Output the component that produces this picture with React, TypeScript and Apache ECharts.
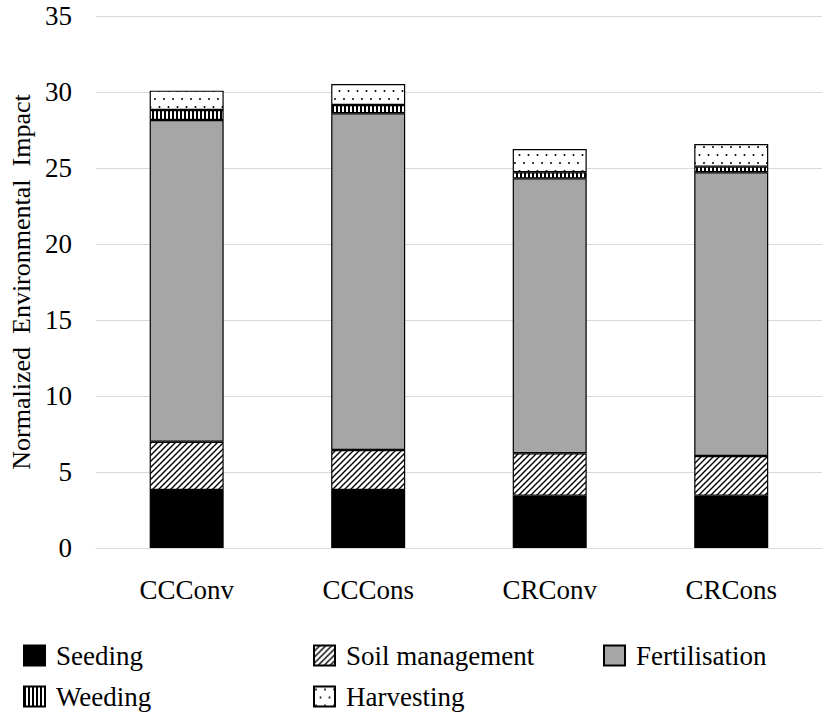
import React, { useEffect, useRef } from "react";
import * as echarts from "echarts";

const categories = ["CCConv", "CCCons", "CRConv", "CRCons"];
const seeding = [3.82, 3.82, 3.44, 3.44];
const soilManagement = [3.17, 2.63, 2.79, 2.61];
const fertilisation = [21.17, 22.15, 18.09, 18.67];
const weeding = [0.66, 0.54, 0.4, 0.37];
const harvesting = [1.27, 1.39, 1.53, 1.49];
const seriesNames = ["Seeding", "Soil management", "Fertilisation", "Weeding", "Harvesting"];

const FONT = "Liberation Serif";

function tile(w: number, h: number, draw: (g: CanvasRenderingContext2D) => void) {
  const c = document.createElement("canvas");
  c.width = w;
  c.height = h;
  const g = c.getContext("2d") as CanvasRenderingContext2D;
  g.fillStyle = "#ffffff";
  g.fillRect(0, 0, w, h);
  draw(g);
  return { image: c, repeat: "repeat", imageWidth: w, imageHeight: h };
}

export default function App() {
  const ref = useRef<HTMLDivElement>(null);
  useEffect(() => {
    if (!ref.current) return;
    const chart = echarts.init(ref.current, null, { renderer: "svg" });

    const hatch = tile(6, 6, (g) => {
      g.strokeStyle = "#000";
      g.lineWidth = 1.4;
      g.beginPath();
      for (const k of [-6, 0, 6]) {
        g.moveTo(k - 1, 7);
        g.lineTo(k + 7, -1);
      }
      g.stroke();
    });
    const stripes = tile(4, 4, (g) => {
      g.fillStyle = "#000";
      g.fillRect(0, 0, 2, 4);
    });
    const dots = tile(9, 16, (g) => {
      g.fillStyle = "#000";
      g.beginPath();
      g.arc(2, 3, 1, 0, Math.PI * 2);
      g.fill();
      g.beginPath();
      g.arc(6.5, 11, 1, 0, Math.PI * 2);
      g.fill();
    });

    const fills: any[] = ["#000000", hatch, "#a6a6a6", stripes, dots];
    const values = [seeding, soilManagement, fertilisation, weeding, harvesting];

    const legendPos = [
      [23, 642],
      [313, 642],
      [603, 642],
      [23, 683],
      [313, 683],
    ];

    chart.setOption({
      animation: false,
      textStyle: { fontFamily: FONT, color: "#000" },
      grid: { left: 92, right: -8, top: 16, bottom: 164 },
      legend: seriesNames.map((n, i) => ({
        data: [n],
        left: legendPos[i][0],
        top: legendPos[i][1],
        padding: 0,
        itemWidth: 21,
        itemHeight: 20,
        itemGap: 6,
        icon: "rect",
        selectedMode: false,
        textStyle: { fontFamily: FONT, fontSize: 27, color: "#000", padding: [0, 0, 0, 6] },
      })),
      xAxis: {
        type: "category",
        data: categories,
        axisLine: { lineStyle: { color: "#d9d9d9", width: 1 } },
        axisTick: { show: false },
        axisLabel: { fontFamily: FONT, fontSize: 27, color: "#000", margin: 28 },
      },
      yAxis: {
        type: "value",
        min: 0,
        max: 35,
        interval: 5,
        name: "Normalized  Environmental  Impact",
        nameLocation: "middle",
        nameRotate: 90,
        nameGap: 58,
        nameTextStyle: { fontFamily: FONT, fontSize: 26, color: "#000" },
        axisLine: { show: false },
        axisTick: { show: false },
        splitLine: { lineStyle: { color: "#d9d9d9", width: 1 } },
        axisLabel: { fontFamily: FONT, fontSize: 27, color: "#000", margin: 24 },
      },
      series: seriesNames.map((n, i) => ({
        name: n,
        type: "bar",
        stack: "total",
        barWidth: 74,
        data: values[i],
        itemStyle: { color: fills[i], borderColor: "#000", borderWidth: 1.2 },
      })),
    });
    return () => chart.dispose();
  }, []);
  return (
    <div
      ref={ref}
      style={{ position: "fixed", left: 0, top: 0, width: 822, height: 712, background: "#fff" }}
    />
  );
}
